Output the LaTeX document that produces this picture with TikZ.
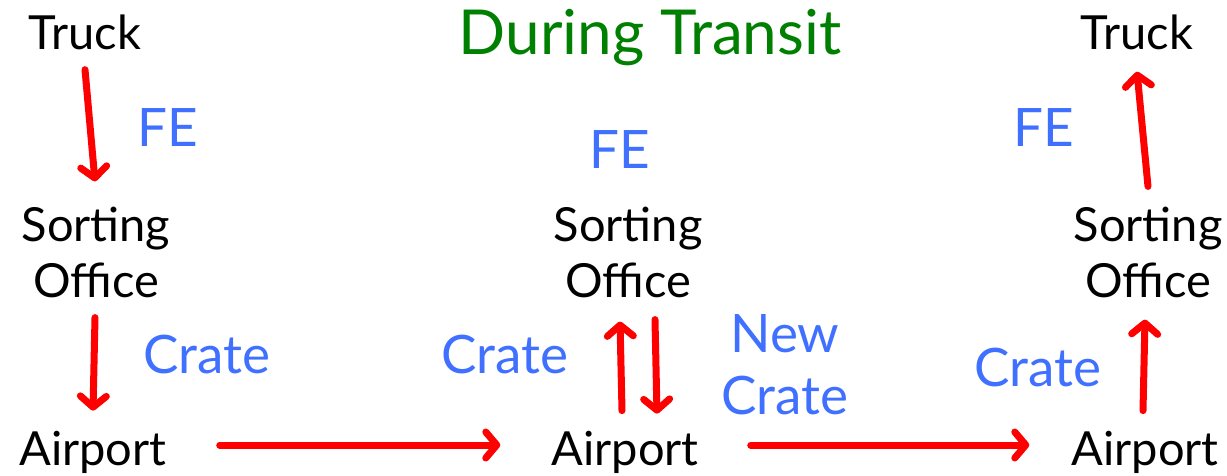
\documentclass[tikz,border=0pt]{standalone}
\usepackage{fontspec}
\setmainfont{Lato}
\usetikzlibrary{arrows.meta,positioning}
\definecolor{feblue}{RGB}{64,112,255}
\definecolor{titlegreen}{RGB}{0,128,0}
\tikzset{>={Straight Barb[length=11pt,width=26pt,round]}}
\tikzset{place/.style={inner sep=0pt, align=center,
    font=\fontsize{47}{56}\selectfont}}
\tikzset{lbl/.style={inner sep=0pt, align=center, text=feblue,
    font=\fontsize{53}{62}\selectfont}}
\tikzset{move/.style={->, draw=red, line width=7pt, line cap=round}}

\begin{document}
\begin{tikzpicture}[x=1pt, y=-1pt]
    \useasboundingbox (0,0) rectangle (1227,476);
    \node[inner sep=0pt, text=titlegreen, font=\fontsize{62}{68}\selectfont]
      (title) at (650,38) {During Transit};
    \begin{scope}
      \node[place] (truckL) at (85,32) {Truck};
      \node[place] (sortL) at (96,252) {Sorting\\Office};
      \node[place] (airL) at (93,452) {Airport};
      \node[lbl] (feL) at (168,128) {FE};
      \node[lbl] (crateL) at (207,355) {Crate};
      \path ([xshift=0pt,yshift=-20pt]truckL.south) edge[move] ([xshift=-1pt,yshift=25pt]sortL.north);
      \path ([xshift=-1pt,yshift=-20pt]sortL.south) edge[move] ([yshift=20pt]airL.north);
    \end{scope}
    \begin{scope}
      \node[lbl] (feM) at (620,150) {FE};
      \node[place] (sortM) at (628,252) {Sorting\\Office};
      \node[place] (airM) at (625,452) {Airport};
      \node[lbl] (crateM) at (505,355) {Crate};
      \node[lbl] (newcrate) at (785,365) {New\\Crate};
      \path ([xshift=-3pt,yshift=20pt]airM.north) edge[move] ([xshift=-8pt,yshift=-24pt]sortM.south);
      \path ([xshift=27pt,yshift=-22pt]sortM.south) edge[move] ([xshift=32pt,yshift=17pt]airM.north);
    \end{scope}
    \begin{scope}
      \node[place] (truckR) at (1137,32) {Truck};
      \node[lbl] (feR) at (1044,128) {FE};
      \node[place] (sortR) at (1148,252) {Sorting\\Office};
      \node[lbl] (crateR) at (1038,368) {Crate};
      \node[place] (airR) at (1145,452) {Airport};
      \path ([yshift=20pt]sortR.north) edge[move] ([yshift=-22pt]truckR.south);
      \path ([xshift=-2pt,yshift=20pt]airR.north) edge[move] ([xshift=-3pt,yshift=-22pt]sortR.south);
    \end{scope}
    \path ([xshift=53pt,yshift=7pt]airL.east) edge[move] ([xshift=-51pt,yshift=7pt]airM.west);
    \path ([xshift=52pt,yshift=7pt]airM.east) edge[move] ([xshift=-42pt,yshift=7pt]airR.west);
  \end{tikzpicture}
\end{document}
